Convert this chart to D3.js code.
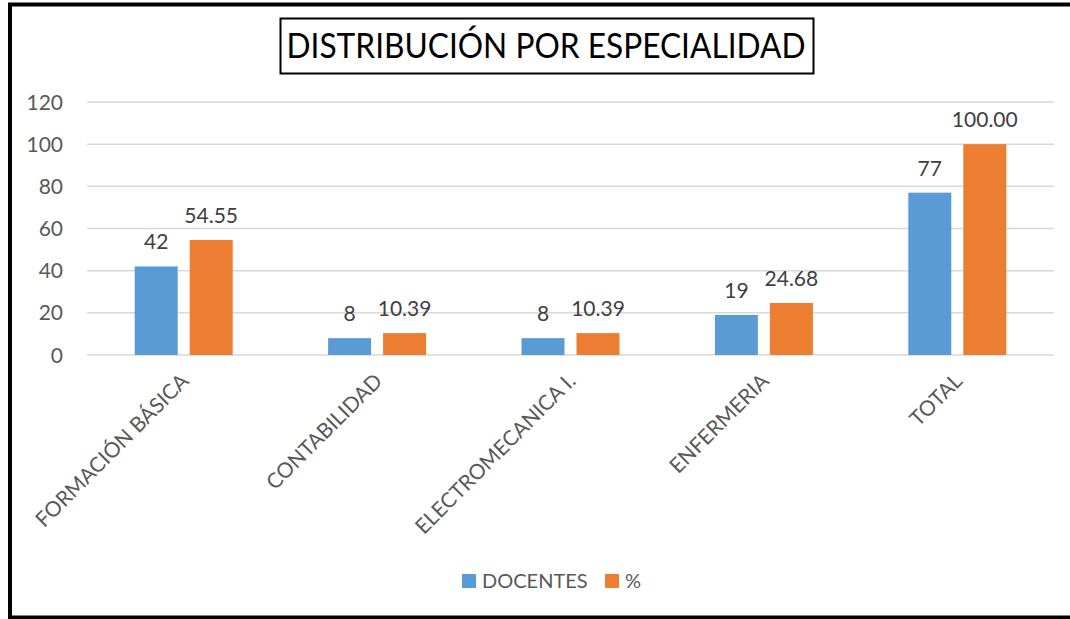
<!DOCTYPE html>
<html>
<head>
<meta charset="utf-8">
<script src="https://cdn.jsdelivr.net/npm/d3@7"></script>
<style>
  body { margin: 0; background: #fff; }
  svg text { font-family: Lato, "Open Sans", sans-serif; }
</style>
</head>
<body>
<div id="grafico"></div>
<script>
// grafico de barras agrupadas, docentes y porcentaje por especialidad

var especialidades = ["FORMACIÓN BÁSICA", "CONTABILIDAD", "ELECTROMECANICA I.", "ENFERMERIA", "TOTAL"];
var docentes = [42, 8, 8, 19, 77];
var porcentaje = [54.55, 10.39, 10.39, 24.68, 100.00];
var series = ["DOCENTES", "%"];
var ticksY = [0, 20, 40, 60, 80, 100, 120];

var ANCHO = 1070, ALTO = 619;
var AZUL = "#5b9bd5", NARANJA = "#ed7d31";
var GRIS_TXT = "#595959", GRIS_VAL = "#404040", GRIS_GRID = "#d9d9d9";

var margen = { top: 102, right: 16, bottom: 264, left: 87 };

var svg = d3.select("#grafico").append("svg")
  .attr("width", ANCHO)
  .attr("height", ALTO);

// marco exterior (el borde derecho queda fuera de la imagen)
svg.append("rect")
  .attr("x", 10).attr("y", 4.5)
  .attr("width", ANCHO + 20).attr("height", 613)
  .attr("fill", "none").attr("stroke", "#000").attr("stroke-width", 4);

// titulo con su caja
svg.append("text")
  .attr("x", 546).attr("y", 58)
  .attr("text-anchor", "middle")
  .attr("font-size", 34)
  .attr("fill", "#000")
  .attr("textLength", 519)
  .attr("lengthAdjust", "spacingAndGlyphs")
  .text("DISTRIBUCIÓN POR ESPECIALIDAD");

svg.append("rect")
  .attr("x", 280.5).attr("y", 18.5)
  .attr("width", 533).attr("height", 55)
  .attr("fill", "none").attr("stroke", "#000").attr("stroke-width", 2);

var x0 = d3.scaleBand()
  .domain(especialidades)
  .range([margen.left, ANCHO - margen.right])
  .padding(0);

var x1 = d3.scaleBand()
  .domain(series)
  .range([x0.bandwidth() / 2 - 49, x0.bandwidth() / 2 + 49])
  .paddingInner(0.218)
  .paddingOuter(0);

var y = d3.scaleLinear()
  .domain([0, 120])
  .range([355, margen.top]);

// lineas de la grilla
svg.append("g").selectAll("line")
  .data(ticksY)
  .enter().append("line")
  .attr("x1", margen.left).attr("x2", ANCHO - margen.right)
  .attr("y1", function (d) { return y(d); })
  .attr("y2", function (d) { return y(d); })
  .attr("stroke", GRIS_GRID).attr("stroke-width", 1.5);

// etiquetas del eje y
svg.append("g").selectAll("text")
  .data(ticksY)
  .enter().append("text")
  .attr("x", 63)
  .attr("y", function (d) { return y(d); })
  .attr("dy", "0.36em")
  .attr("text-anchor", "end")
  .attr("font-size", 21)
  .attr("fill", GRIS_TXT)
  .text(function (d) { return d; });

var filas = especialidades.map(function (e, i) {
  return { cat: e, valores: [
    { serie: "DOCENTES", valor: docentes[i], texto: String(docentes[i]), color: AZUL },
    { serie: "%", valor: porcentaje[i], texto: porcentaje[i].toFixed(2), color: NARANJA }
  ] };
});

var grupos = svg.append("g").selectAll("g.grupo")
  .data(filas)
  .enter().append("g")
  .attr("class", "grupo")
  .attr("transform", function (d) { return "translate(" + x0(d.cat) + ",0)"; });

grupos.selectAll("rect")
  .data(function (d) { return d.valores; })
  .enter().append("rect")
  .attr("x", function (d) { return x1(d.serie); })
  .attr("y", function (d) { return y(d.valor); })
  .attr("width", x1.bandwidth())
  .attr("height", function (d) { return y(0) - y(d.valor); })
  .attr("fill", function (d) { return d.color; });

grupos.selectAll("text.val")
  .data(function (d) { return d.valores; })
  .enter().append("text")
  .attr("class", "val")
  .attr("x", function (d) { return x1(d.serie) + x1.bandwidth() / 2; })
  .attr("y", function (d) { return y(d.valor) - 17; })
  .attr("text-anchor", "middle")
  .attr("font-size", 21)
  .attr("fill", GRIS_VAL)
  .text(function (d) { return d.texto; });

// etiquetas de categoria giradas
svg.append("g").selectAll("text")
  .data(especialidades)
  .enter().append("text")
  .attr("transform", function (d) {
    return "translate(" + (x0(d) + x0.bandwidth() / 2 - 4) + ",372) rotate(-45)";
  })
  .attr("text-anchor", "end")
  .attr("dy", "0.7em")
  .attr("font-size", 21)
  .attr("fill", GRIS_TXT)
  .text(function (d) { return d; });

// leyenda
var leyenda = [
  { nombre: "DOCENTES", color: AZUL, x: 462 },
  { nombre: "%", color: NARANJA, x: 605 }
];
var items = svg.append("g").selectAll("g")
  .data(leyenda)
  .enter().append("g")
  .attr("transform", function (d) { return "translate(" + d.x + ",574)"; });
items.append("rect")
  .attr("width", 14).attr("height", 14)
  .attr("fill", function (d) { return d.color; });
items.append("text")
  .attr("x", 20).attr("y", 7)
  .attr("dy", "0.36em")
  .attr("font-size", 20)
  .attr("fill", GRIS_TXT)
  .text(function (d) { return d.nombre; });
</script>
</body>
</html>
